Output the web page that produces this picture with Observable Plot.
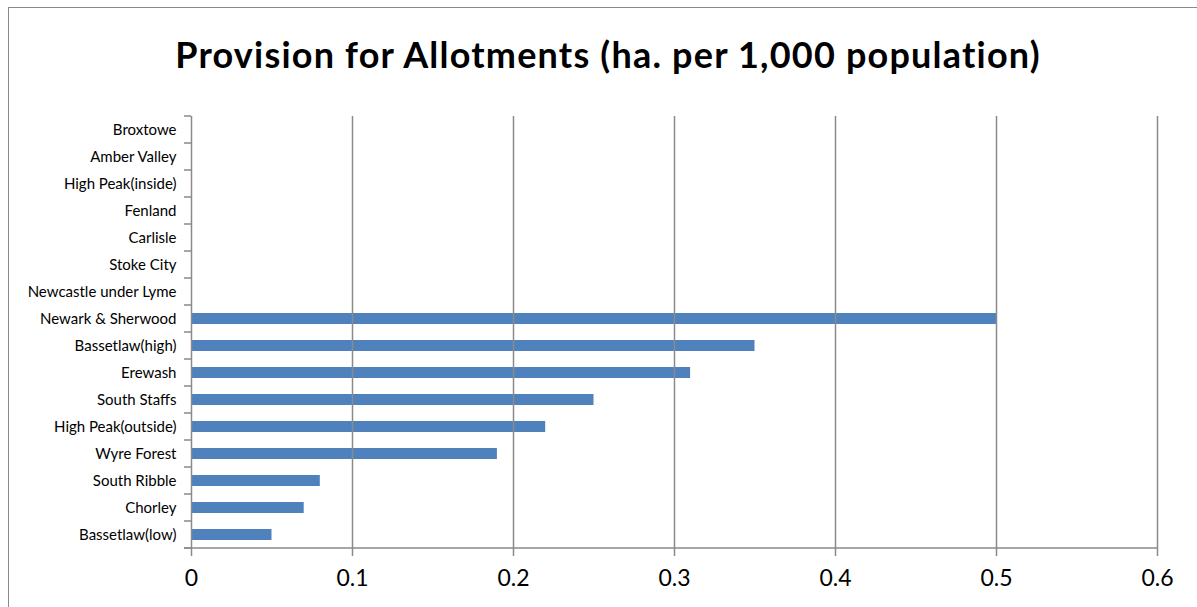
<!DOCTYPE html>
<html>
<head>
<meta charset="utf-8">
<script src="https://cdn.jsdelivr.net/npm/d3@7"></script>
<script src="https://cdn.jsdelivr.net/npm/@observablehq/plot@0.6"></script>
<style>
  html, body { margin: 0; padding: 0; background: #fff; }
  body { width: 1197px; height: 607px; overflow: hidden; position: relative; font-family: Lato, "Open Sans", sans-serif; }
  #frame { position: absolute; left: 8px; top: 7px; width: 1300px; height: 700px; border: 1.5px solid #8a8a8a; box-sizing: border-box; }
  #title { position: absolute; left: 0; width: 1216px; top: 36px; text-align: center; font-weight: 700; font-size: 36px; line-height: 1; color: #000; letter-spacing: 1.2px; }
  #chart { position: absolute; left: 0; top: 100px; }
</style>
</head>
<body>
<div id="frame"></div>
<div id="title">Provision for Allotments (ha. per 1,000 population)</div>
<div id="chart"></div>
<script>
const categories = [
  "Broxtowe", "Amber Valley", "High Peak(inside)", "Fenland", "Carlisle",
  "Stoke City", "Newcastle under Lyme", "Newark & Sherwood", "Bassetlaw(high)",
  "Erewash", "South Staffs", "High Peak(outside)", "Wyre Forest",
  "South Ribble", "Chorley", "Bassetlaw(low)"
];
const values = [0, 0, 0, 0, 0, 0, 0, 0.5, 0.35, 0.31, 0.25, 0.22, 0.19, 0.08, 0.07, 0.05];
const xTicks = [0, 0.1, 0.2, 0.3, 0.4, 0.5, 0.6];
const xTickLabels = ["0", "0.1", "0.2", "0.3", "0.4", "0.5", "0.6"];

const data = categories.map((name, i) => ({name, value: values[i]}));
const gridColor = "#8a8a8a";

const plot = Plot.plot({
  width: 1197,
  height: 500,
  marginTop: 16,
  marginBottom: 52,
  marginLeft: 191,
  marginRight: 40,
  style: {fontFamily: "Lato, 'Open Sans', sans-serif", background: "transparent", color: "#000"},
  x: {domain: [0, 0.6]},
  y: {domain: categories, paddingInner: 0.6, paddingOuter: 0.3},
  marks: [
    Plot.barX(data.filter(d => d.value > 0), {x: "value", y: "name", fill: "#4F81BD"}),
    Plot.ruleX(xTicks, {stroke: gridColor, strokeWidth: 1.5}),
    Plot.axisX({ticks: xTicks, tickFormat: (d) => xTickLabels[xTicks.indexOf(d)], tickSize: 8, tickPadding: 13, fontSize: 23, stroke: gridColor, strokeWidth: 1.5, fill: "#000", label: null}),
    Plot.axisY({tickSize: 0, tickPadding: 15, fontSize: 15, fill: "#000", label: null})
  ]
});
document.getElementById("chart").appendChild(plot);

// Category boundary ticks on the left axis and bottom axis line, from the plot's y scale
const ys = plot.scale("y");
const xs = plot.scale("x");
const x0 = xs.apply(0), x1 = xs.apply(0.6);
const bounds = [];
categories.forEach((c, i) => {
  const center = ys.apply(c) + ys.bandwidth / 2;
  bounds.push(center - ys.step / 2);
  if (i === categories.length - 1) bounds.push(center + ys.step / 2);
});
const g = d3.select(plot).append("g").attr("stroke", gridColor).attr("stroke-width", 1.5);
bounds.forEach(y => {
  g.append("line").attr("x1", x0 - 7).attr("x2", x0).attr("y1", y).attr("y2", y);
});
const yb = bounds[bounds.length - 1];
g.append("line").attr("x1", x0 - 7).attr("x2", x1).attr("y1", yb).attr("y2", yb);
</script>
</body>
</html>
